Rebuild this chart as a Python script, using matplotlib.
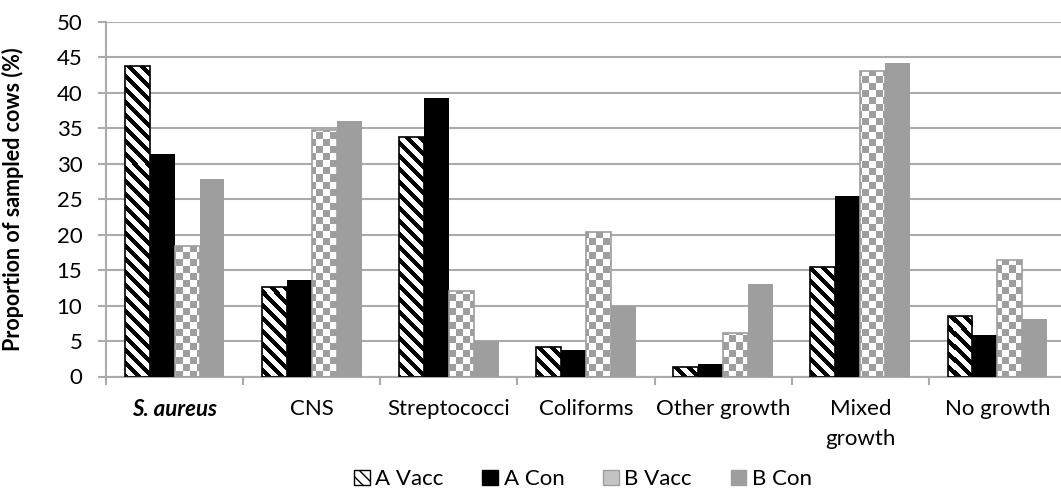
import numpy as np
import matplotlib
matplotlib.use("Agg")
import matplotlib.pyplot as plt
from matplotlib.patches import Patch

# ---- data ----
categories = ['S. aureus', 'CNS', 'Streptococci', 'Coliforms', 'Other growth', 'Mixed\ngrowth', 'No growth']
a_vacc = [43.7, 12.6, 33.8, 4.2, 1.4, 15.5, 8.5]
a_con = [31.3, 13.6, 39.2, 3.8, 1.8, 25.5, 5.8]
b_vacc = [18.4, 34.7, 12.1, 20.4, 6.1, 43.0, 16.4]
b_con = [27.9, 36.0, 5.0, 10.0, 13.1, 44.2, 8.1]
series_names = ['A Vacc', 'A Con', 'B Vacc', 'B Con']
y_ticks = [0, 5, 10, 15, 20, 25, 30, 35, 40, 45, 50]
y_label = 'Proportion of sampled cows (%)'

FONT = 'Lato'
GRID = '#ABABAB'
GRAY = '#9E9E9E'
plt.rcParams['font.family'] = [FONT, 'DejaVu Sans']

W, H = 1061, 498
fig = plt.figure(figsize=(W / 100, H / 100), dpi=100)
left, right = 106 / W, 1066 / W
bottom, top = 1 - 376.5 / H, 1 - 21.7 / H
ax = fig.add_axes([left, bottom, right - left, top - bottom])

x = np.arange(len(categories))
w = 0.182
xlim = (-0.5, len(categories) - 0.5)
ylim = (0, 50)

bars_av = ax.bar(x - 1.5 * w, a_vacc, w, facecolor='none', edgecolor='black', linewidth=1.2, zorder=3)
bars_ac = ax.bar(x - 0.5 * w, a_con, w, color='black', linewidth=0, zorder=3)
bars_bv = ax.bar(x + 0.5 * w, b_vacc, w, facecolor='none', edgecolor=GRAY, linewidth=1.2, zorder=3)
bars_bc = ax.bar(x + 1.5 * w, b_con, w, color=GRAY, linewidth=0, zorder=3)

# pattern fills clipped to bars
pw = int(round(ax.bbox.width))
ph = int(round(ax.bbox.height))
yy, xx = np.mgrid[0:ph, 0:pw]
stripe = ((xx - yy) % 13) < 6
stripe_img = np.ones((ph, pw, 3))
stripe_img[stripe] = 0.0
checker = ((xx // 7 + yy // 7) % 2) == 0
g = int(GRAY[1:3], 16) / 255
checker_img = np.ones((ph, pw, 3))
checker_img[checker] = g

extent = (xlim[0], xlim[1], ylim[0], ylim[1])
for bar in bars_av:
    im = ax.imshow(stripe_img, extent=extent, origin='upper', interpolation='nearest',
                   aspect='auto', zorder=2.5)
    im.set_clip_path(bar)
for bar in bars_bv:
    im = ax.imshow(checker_img, extent=extent, origin='upper', interpolation='nearest',
                   aspect='auto', zorder=2.5)
    im.set_clip_path(bar)

ax.set_xlim(*xlim)
ax.set_ylim(*ylim)

# axes styling
for s in ['top', 'right']:
    ax.spines[s].set_visible(False)
for s in ['left', 'bottom']:
    ax.spines[s].set_color(GRID)
    ax.spines[s].set_linewidth(1.5)
ax.set_yticks(y_ticks)
ax.yaxis.grid(True, color=GRID, linewidth=1.5, zorder=0)
ax.set_axisbelow(True)
ax.tick_params(axis='y', length=6, width=1.5, color=GRID, labelsize=16, pad=11)

ax.set_xticks(np.arange(len(categories) + 1) - 0.5)
ax.set_xticklabels([])
ax.tick_params(axis='x', which='major', length=6, width=1.5, color=GRID)
ax.set_xticks(x, minor=True)
ax.set_xticklabels(categories, minor=True, linespacing=1.65)
ax.tick_params(axis='x', which='minor', length=0, labelsize=16, pad=16)
lbl0 = ax.get_xticklabels(minor=True)[0]
lbl0.set_fontstyle('italic')
lbl0.set_fontweight('bold')

ax.set_ylabel(y_label, fontsize=15.5, fontweight='bold')
ax.yaxis.set_label_coords(-(106 - 24) / 960, 0.5)

handles = [
    Patch(facecolor='white', edgecolor='black', hatch='\\\\\\', linewidth=1),
    Patch(facecolor='black', edgecolor='black'),
    Patch(facecolor='#C4C4C4', edgecolor=GRAY),
    Patch(facecolor=GRAY, edgecolor=GRAY),
]
fig.legend(handles, series_names, loc='lower center', bbox_to_anchor=(583 / W, -0.005),
           ncol=4, frameon=False, fontsize=16, handlelength=0.7, handleheight=0.7,
           handletextpad=0.25, columnspacing=1.75, borderpad=0.0)

fig.savefig('out.png', dpi=100)
